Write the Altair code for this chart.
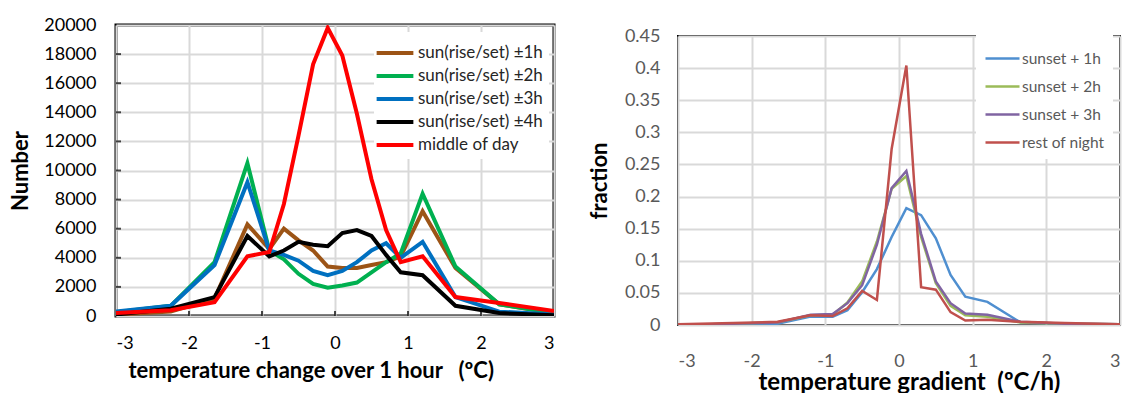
import altair as alt
import pandas as pd

# ---------------- data ----------------
x_vals = [-3, -2.25, -1.65, -1.2, -0.9, -0.7, -0.5, -0.3, -0.1, 0.1, 0.3, 0.5, 0.7, 0.9, 1.2, 1.65, 2.25, 3]

left_names = ["sun(rise/set) ±1h", "sun(rise/set) ±2h", "sun(rise/set) ±3h", "sun(rise/set) ±4h", "middle of day"]
left_colors = ["#9C5416", "#00B050", "#0070C0", "#000000", "#FF0000"]
rise1 = [100, 300, 1200, 6300, 4600, 6000, 5200, 4500, 3400, 3300, 3300, 3500, 3700, 4100, 7200, 3300, 800, 200]
rise2 = [250, 700, 3700, 10500, 4500, 3900, 2900, 2200, 1950, 2100, 2300, 3000, 3700, 4300, 8400, 3400, 800, 200]
rise3 = [300, 700, 3500, 9200, 4500, 4200, 3800, 3100, 2800, 3100, 3700, 4500, 5000, 4000, 5100, 1300, 300, 100]
rise4 = [100, 500, 1300, 5500, 4100, 4500, 5100, 4900, 4800, 5700, 5900, 5500, 4200, 3000, 2800, 700, 200, 50]
midday = [200, 400, 950, 4100, 4400, 7700, 12400, 17300, 19800, 17900, 13900, 9400, 5900, 3700, 4100, 1300, 900, 350]

right_names = ["sunset + 1h", "sunset + 2h", "sunset + 3h", "rest of night"]
right_colors = ["#4F8FD0", "#9BBB59", "#8064A2", "#C0504D"]
sunset1 = [0.0, 0.001, 0.002, 0.013, 0.013, 0.023, 0.051, 0.087, 0.137, 0.182, 0.171, 0.135, 0.078, 0.044, 0.036, 0.004, 0.002, 0.001]
sunset2 = [0.0, 0.002, 0.004, 0.015, 0.016, 0.035, 0.068, 0.130, 0.212, 0.232, 0.137, 0.065, 0.030, 0.015, 0.013, 0.004, 0.002, 0.001]
sunset3 = [0.0, 0.002, 0.004, 0.016, 0.017, 0.034, 0.062, 0.125, 0.213, 0.240, 0.142, 0.068, 0.034, 0.018, 0.016, 0.005, 0.002, 0.001]
restnight = [0.001, 0.003, 0.005, 0.015, 0.014, 0.026, 0.053, 0.039, 0.274, 0.404, 0.059, 0.055, 0.020, 0.007, 0.008, 0.005, 0.003, 0.001]

x_ticks = [-3, -2, -1, 0, 1, 2, 3]
left_y_ticks = list(range(0, 20001, 2000))
right_y_ticks = [0, 0.05, 0.1, 0.15, 0.2, 0.25, 0.3, 0.35, 0.4, 0.45]

FONT = "Lato"
PLAIN_LABEL = "'' + datum.value"
NB = "\u00a0"

def long_df(names, series):
    rows = []
    for i, (n, s) in enumerate(zip(names, series)):
        for j, (x, v) in enumerate(zip(x_vals, s)):
            rows.append({"series": n, "x": x, "v": v, "k": i, "j": j})
    return pd.DataFrame(rows)

left_df = long_df(left_names, [rise1, rise2, rise3, rise4, midday])
right_df = long_df(right_names, [sunset1, sunset2, sunset3, restnight])

# ---------------- left chart ----------------
lx = alt.X("x:Q", scale=alt.Scale(domain=[-3, 3], nice=False),
           axis=alt.Axis(values=x_ticks, labelExpr=PLAIN_LABEL, grid=True, gridColor="#d9d9d9", gridWidth=2,
                         domain=False, ticks=False, labelFontSize=18, labelColor="#000000",
                         labelPadding=18, labelOverlap=False,
                         title="temperature change over 1 hour" + NB * 3 + "(ºC)",
                         titleFontSize=22, titleFontWeight="bold", titleColor="#000000", titlePadding=8,
                         titleX=12, titleAlign="left"))
ly = alt.Y("v:Q", scale=alt.Scale(domain=[0, 20000], nice=False),
           axis=alt.Axis(values=left_y_ticks, labelExpr=PLAIN_LABEL, grid=True, gridColor="#d9d9d9", gridWidth=2,
                         domain=False, ticks=False, labelFontSize=18, labelColor="#000000",
                         labelPadding=20, labelOverlap=False, title="Number", titleFontSize=22,
                         titleFontWeight="bold", titleColor="#000000", titlePadding=11))

left_lines = alt.Chart(left_df).mark_line(strokeWidth=4, clip=True).encode(
    x=lx, y=ly,
    color=alt.Color("series:N", sort=left_names,
                    scale=alt.Scale(domain=left_names, range=left_colors),
                    legend=alt.Legend(title=None, orient="none", legendX=258, legendY=7,
                                      symbolType="M-1.43,0H1.43", symbolSize=660, symbolStrokeWidth=4,
                                      labelFontSize=17, labelColor="#262626", labelFont=FONT,
                                      fillColor="white", padding=6, rowPadding=0, labelOffset=8)),
    detail="k:N",
    order="j:Q",
)

xt_df = pd.DataFrame({"x": x_ticks[1:-1], "v": [0] * 5})
yt_df = pd.DataFrame({"x": [-3] * (len(left_y_ticks) - 2), "v": left_y_ticks[1:-1]})
x_tickmarks = alt.Chart(xt_df).mark_tick(orient="vertical", size=10, thickness=2, color="black", clip=True).encode(
    x=lx, y=ly)
y_tickmarks = alt.Chart(yt_df).mark_tick(orient="horizontal", size=10, thickness=2, color="black", clip=True).encode(
    x=lx, y=ly)

left = alt.layer(left_lines, x_tickmarks, y_tickmarks).properties(
    width=438, height=291,
    view=alt.ViewBackground(stroke="#000000", strokeWidth=3, fill="white"))

# ---------------- right chart ----------------
rx = alt.X("x:Q", scale=alt.Scale(domain=[-3, 3], nice=False),
           axis=alt.Axis(values=x_ticks, labelExpr=PLAIN_LABEL, grid=True, gridColor="#d9d9d9", gridWidth=2,
                         domain=False, ticks=False, labelFontSize=18, labelColor="#595959",
                         labelPadding=27, labelOverlap=False,
                         title="temperature gradient" + NB * 2 + "(ºC/h)",
                         titleFontSize=24, titleFontWeight="bold", titleColor="#000000", titlePadding=0,
                         titleX=80, titleAlign="left"))
ry = alt.Y("v:Q", scale=alt.Scale(domain=[0, 0.45], nice=False),
           axis=alt.Axis(values=right_y_ticks, format="~g", grid=True, gridColor="#d9d9d9", gridWidth=2,
                         domain=False, ticks=False, labelFontSize=18, labelColor="#595959",
                         labelPadding=18, labelOverlap=False, title="fraction", titleFontSize=22,
                         titleFontWeight="bold", titleColor="#000000", titlePadding=13))

right_lines = alt.Chart(right_df).mark_line(strokeWidth=2.5, clip=True).encode(
    x=rx, y=ry,
    color=alt.Color("series:N", sort=right_names,
                    scale=alt.Scale(domain=right_names, range=right_colors),
                    legend=alt.Legend(title=None, orient="none", legendX=298, legendY=7,
                                      symbolType="stroke", symbolSize=1156, symbolStrokeWidth=2.5,
                                      labelFontSize=15.5, labelColor="#595959", labelFont=FONT,
                                      fillColor="white", padding=8, rowPadding=1, labelOffset=1)),
    detail="k:N",
    order="j:Q",
)

right = alt.layer(right_lines).properties(
    width=442, height=289,
    view=alt.ViewBackground(stroke="#000000", strokeWidth=2, fill="white"))

spacer = alt.Chart(pd.DataFrame({"a": [0]})).mark_rule(opacity=0).encode(
    x=alt.value(0), x2=alt.value(1), y=alt.value(0)
).properties(width=442, height=1, view=alt.ViewBackground(strokeOpacity=0, fillOpacity=0))

right_col = alt.vconcat(spacer, right, spacing=0)

chart = alt.hconcat(left, right_col, spacing=31).resolve_scale(color="independent").properties(
    padding={"left": 8, "top": 14, "right": 5, "bottom": 0},
    background="white",
).configure_axis(labelFont=FONT, titleFont=FONT).configure_legend(labelFont=FONT)

chart.save("out.html", embed_options={"renderer": "svg", "actions": False})
